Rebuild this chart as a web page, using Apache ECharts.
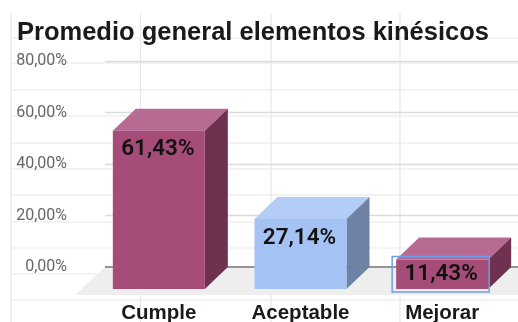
<!DOCTYPE html>
<html><head><meta charset="utf-8">
<style>html,body{margin:0;padding:0;background:#fff;overflow:hidden}#c{width:518px;height:322px;filter:blur(0.45px)}</style>
<script src="https://cdn.jsdelivr.net/npm/echarts@6/dist/echarts.min.js"></script>
</head><body><div id="c"></div>
<script>
const titleText = 'Promedio general elementos kinésicos';
const categories = ['Cumple', 'Aceptable', 'Mejorar'];
const values = [61.43, 27.14, 11.43];
const valueLabels = ['61,43%', '27,14%', '11,43%'];
const frontColors = ['#a54d78', '#a4c2f4', '#a54d78'];
const topColors = ['#b76b93', '#b3cdf6', '#b76b93'];
const sideColors = ['#6e3150', '#6d82a4', '#6e3150'];
const selectedIndex = 2;
const sheetColumns = [11, 140.5, 271, 400];
const sheetRows = [38, 63, 90, 116, 143, 169, 195, 222, 248, 274, 300];

const DX = 23, DY = 22, BAR_W = 92;
const chart = echarts.init(document.getElementById('c'));
const sheet = [];
sheetColumns.forEach(x => sheet.push({type:'line', silent:true, z:-20, shape:{x1:x,y1:13,x2:x,y2:322}, style:{stroke:'#e7e7e7',lineWidth:1.2}}));
sheetRows.forEach(y => sheet.push({type:'line', silent:true, z:-20, shape:{x1:11,y1:y,x2:518,y2:y}, style:{stroke:'#e7e7e7',lineWidth:1.2}}));

function renderFloor(params, api) {
  const cs = params.coordSys;
  const y0 = api.coord([0, 0])[1];
  return {type:'group', children:[
    {type:'polygon', shape:{points:[[cs.x, y0],[cs.x+cs.width, y0],[cs.x+cs.width, y0+28],[cs.x-30, y0+28]]}, style:{fill:'#eeeeee'}},
    {type:'line', shape:{x1:cs.x,y1:y0,x2:cs.x+cs.width,y2:y0}, style:{stroke:'#777',lineWidth:1.3}}
  ]};
}
function renderBar(params, api) {
  const i = api.value(0), p = api.coord([i, api.value(1)]), base = api.coord([i, 0]);
  const l = p[0] - BAR_W / 2, r = l + BAR_W, t = p[1] + DY, b = base[1] + DY, h = b - t;
  const children = [
    {type:'polygon', shape:{points:[[l,t],[r,t],[r+DX,t-DY],[l+DX,t-DY]]}, style:{fill:topColors[i]}},
    {type:'polygon', shape:{points:[[r,t],[r+DX,t-DY],[r+DX,b-DY],[r,b]]}, style:{fill:sideColors[i]}},
    {type:'rect', shape:{x:l,y:t,width:BAR_W,height:h}, style:{fill:frontColors[i]}}
  ];
  if (i === selectedIndex) children.push({type:'rect', shape:{x:l-4,y:t-3,width:BAR_W+5,height:h+6}, style:{fill:'none',stroke:'#6d9eeb',lineWidth:1.5}});
  children.push({type:'text', style:{text:valueLabels[i], x:(l+r)/2-1, y:t+Math.min(19,h/2), align:'center', verticalAlign:'middle', fill:'#111', font:'600 22.5px Roboto, sans-serif'}});
  return {type:'group', children};
}
chart.setOption({
  animation:false,
  backgroundColor:'#fff',
  title:{text:titleText,left:12,top:15,textStyle:{fontFamily:'Liberation Sans',fontWeight:'bold',fontSize:25.5,color:'#1a1a1a'}},
  graphic:sheet,
  grid:[{left:105,right:0,top:61,bottom:55,outerBoundsMode:'none'},{left:88,width:425,top:61,bottom:55,outerBoundsMode:'none'}],
  xAxis:[
    {gridIndex:0,type:'value',min:0,max:1,show:false},
    {gridIndex:1,type:'category',data:categories,axisLine:{show:false},axisTick:{show:false},
     axisLabel:{margin:36,fontFamily:'Liberation Sans',fontWeight:'bold',fontSize:20.5,color:'#1a1a1a'}}
  ],
  yAxis:[
    {gridIndex:0,type:'value',min:0,max:80,interval:20,axisLine:{show:false},axisTick:{show:false},
     splitLine:{lineStyle:{color:'#dcdcdc',width:1.3}},
     axisLabel:{margin:38,fontFamily:'Roboto',fontSize:16,color:'#666',formatter:v=>v.toFixed(2).replace('.',',')+'%'}},
    {gridIndex:1,type:'value',min:0,max:80,interval:20,show:false}
  ],
  series:[
    {type:'custom',xAxisIndex:0,yAxisIndex:0,renderItem:renderFloor,data:[[0,0]],silent:true,z:1},
    {type:'custom',xAxisIndex:1,yAxisIndex:1,renderItem:renderBar,data:values.map((v,i)=>[i,v]),encode:{x:0,y:1},silent:true,z:2}
  ]
});
</script></body></html>
